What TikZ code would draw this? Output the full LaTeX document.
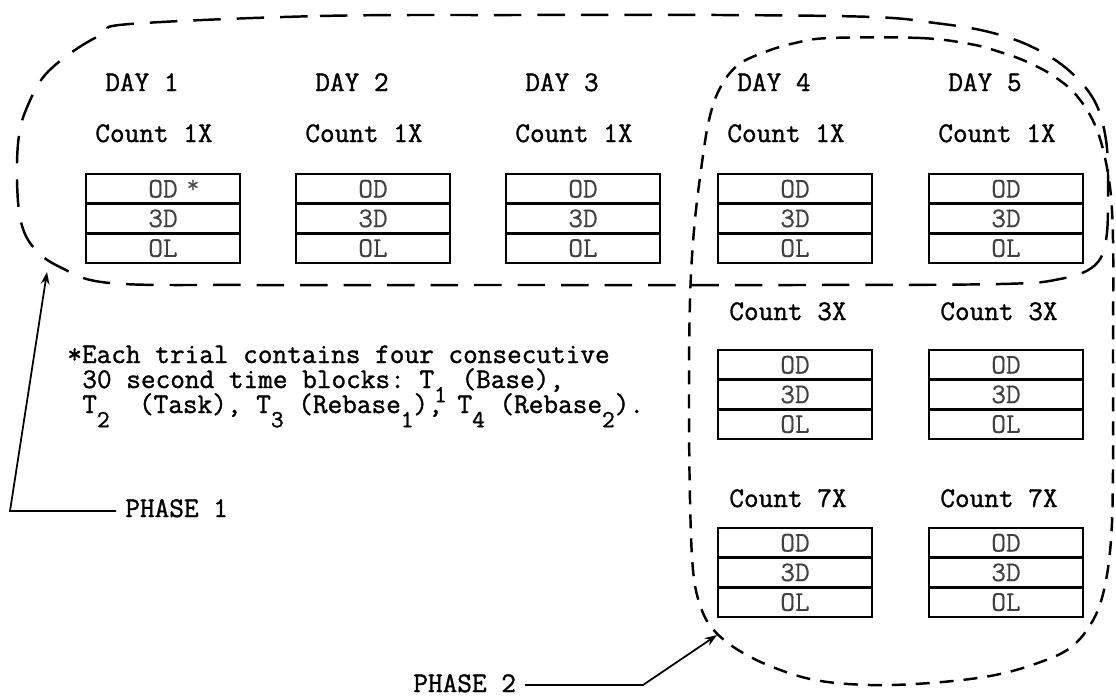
\documentclass[tikz,border=0pt]{standalone}
\usepackage{fontspec}
\setmonofont{Latin Modern Mono}[FakeBold=1.2]
\newfontfamily\celltt{Latin Modern Mono}[FakeBold=0.4]
\usetikzlibrary{positioning, arrows.meta}

\newcommand{\tsub}[1]{\smash{\raisebox{-0.5em}{\fontsize{14}{14}\selectfont #1}}}

\begin{document}
\begin{tikzpicture}[x=0.02cm, y=-0.02cm,
  cell/.style={draw, line width=1.6pt, minimum width=3.08cm, minimum height=0.593cm,
    inner sep=0pt, outer sep=0pt, font=\celltt\fontsize{16.2}{18}\selectfont, text=black!75},
  lbl/.style={anchor=base west, inner sep=0pt, font=\ttfamily\fontsize{16.2}{18}\selectfont},
  loopone/.style={line width=1.4pt, dash pattern=on 0.55cm off 0.32cm},
  looptwo/.style={line width=1.4pt, dash pattern=on 0.28cm off 0.2cm},
  arrow/.style={-{Stealth[length=7pt, width=5pt]}, line width=1pt}
]
  \useasboundingbox (0,0) rectangle (1116,697);

  % count 1X, days 1-5
  \foreach \i/\x in {1/86, 2/296, 3/506, 4/718, 5/929} {
    \node[lbl] (day\i) at (\x+19, 91) {DAY \i};
    \node[lbl] (cnt\i) at (\x+9, 142) {Count 1X};
    \node[cell] (od\i) at (\x+77, 188.8) {OD};
    \node[cell, below=0pt of od\i] (td\i) {3D};
    \node[cell, below=0pt of td\i] (ol\i) {OL};
  }
  \node[inner sep=0pt, font=\celltt\fontsize{14}{14}\selectfont, text=black!70] (ast) at (193,186) {*};

  % count 3X and 7X, days 4-5
  \foreach \i/\x in {4/718, 5/929} {
    \node[lbl] (cthree\i) at (\x+11, 320) {Count 3X};
    \node[cell] (odb\i) at (\x+77, 364.8) {OD};
    \node[cell, below=0pt of odb\i] (tdb\i) {3D};
    \node[cell, below=0pt of tdb\i] (olb\i) {OL};
    \node[lbl] (cseven\i) at (\x+11, 507) {Count 7X};
    \node[cell] (odc\i) at (\x+77, 542.8) {OD};
    \node[cell, below=0pt of odc\i] (tdc\i) {3D};
    \node[cell, below=0pt of tdc\i] (olc\i) {OL};
  }

  % footnote
  \node[lbl] (note1) at (67, 363) {*Each trial contains four consecutive};
  \node[lbl] (note2) at (82, 388) {30 second time blocks: T\tsub{1} (Base),};
  \node[lbl] (note3) at (82, 413) {T\tsub{2}~ (Task), T\tsub{3} (Rebase\tsub{1}), T\tsub{4} (Rebase\tsub{2}).};

  % phase loops
  \draw[loopone] plot[smooth cycle, tension=0.6] coordinates {
    (130,24) (320,16) (520,15) (720,15) (873,17) (935,23) (985,31) (1028,45)
    (1066,68) (1094,100) (1106,140) (1108,190) (1106,240) (1094,266) (1060,279)
    (1000,284) (800,285) (500,285) (250,285) (110,283) (60,267) (34,248)
    (21,222) (17,180) (19,135) (28,105) (45,75) (75,50) (105,33)};
  \draw[looptwo] plot[smooth cycle, tension=0.6] coordinates {
    (830,38) (920,38) (970,44) (1000,52) (1025,61) (1052,75) (1077,96)
    (1097,130) (1109,180) (1113,240) (1113,350) (1113,470) (1111,540)
    (1104,590) (1092,622) (1070,648) (1035,664) (990,676) (930,683)
    (870,685) (815,680) (770,666) (735,648) (712,628) (700,605) (693,570)
    (690,500) (689,400) (690,300) (694,230) (701,170) (709,120) (720,88)
    (738,65) (765,52) (795,43)};

  % phase labels
  \node[lbl] (phase1) at (125, 517) {PHASE 1};
  \node[lbl] (phase2) at (413, 692) {PHASE 2};
  \coordinate (p1corner) at (10, 511);
  \coordinate (p1tip) at (47, 272);
  \coordinate (p2corner) at (643, 685);
  \coordinate (p2tip) at (717, 635);
  \draw[arrow, shorten <=5pt] (phase1.west |- p1corner) -- (p1corner) -- (p1tip);
  \draw[arrow, shorten <=5pt] (phase2.east |- p2corner) -- (p2corner) -- (p2tip);
\end{tikzpicture}
\end{document}
